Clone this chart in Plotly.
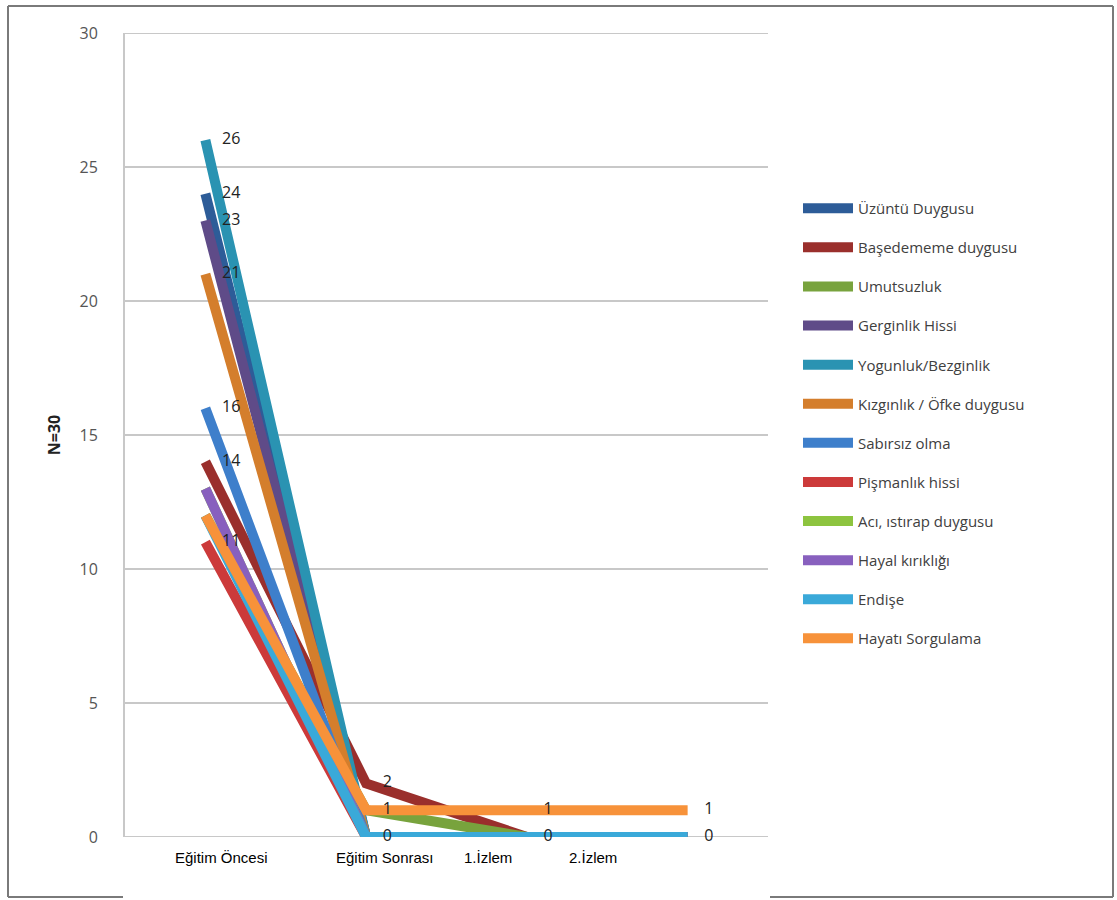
import plotly.graph_objects as go

categories = ["Eğitim Öncesi", "Eğitim Sonrası", "1.İzlem", "2.İzlem"]

series_names = [
    "Üzüntü Duygusu", "Başedememe duygusu", "Umutsuzluk", "Gerginlik Hissi",
    "Yogunluk/Bezginlik", "Kızgınlık / Öfke duygusu", "Sabırsız olma",
    "Pişmanlık hissi", "Acı, ıstırap duygusu", "Hayal kırıklığı", "Endişe",
    "Hayatı Sorgulama",
]
uzuntu = [24, 0, 0, 0]
basedememe = [14, 2, 0, 0]
umutsuzluk = [12, 1, 0, 0]
gerginlik = [23, 0, 0, 0]
yogunluk = [26, 0, 0, 0]
kizginlik = [21, 0, 0, 0]
sabirsiz = [16, 0, 0, 0]
pismanlik = [11, 0, 0, 0]
aci = [13, 0, 0, 0]
hayal = [13, 0, 0, 0]
endise = [12, 0, 0, 0]
hayati = [12, 1, 1, 1]
series_values = [uzuntu, basedememe, umutsuzluk, gerginlik, yogunluk, kizginlik,
                 sabirsiz, pismanlik, aci, hayal, endise, hayati]

# which points carry a data label (index lists per series)
label_points = {
    "Üzüntü Duygusu": [0], "Başedememe duygusu": [0, 1], "Gerginlik Hissi": [0],
    "Yogunluk/Bezginlik": [0], "Kızgınlık / Öfke duygusu": [0], "Sabırsız olma": [0],
    "Pişmanlık hissi": [0], "Endişe": [1, 2, 3], "Hayatı Sorgulama": [1, 2, 3],
}

colors = ["#2D5C98", "#9A2F2C", "#78A33D", "#5F4B88", "#2A93B2", "#D47E2C",
          "#3E7FCB", "#CC3A3A", "#8DC43F", "#8860BE", "#3AA9D9", "#F7923A"]

fig = go.Figure()
for name, vals, col in zip(series_names, series_values, colors):
    fig.add_trace(go.Scatter(
        x=categories, y=vals, name=name, mode="lines",
        line=dict(color=col, width=10),
        legendgroup=name, cliponaxis=False,
    ))
# data labels drawn on top of all lines
for name, vals in zip(series_names, series_values):
    idx = label_points.get(name, [])
    if not idx:
        continue
    fig.add_trace(go.Scatter(
        x=[categories[i] for i in idx], y=[vals[i] for i in idx],
        text=["    " + str(vals[i]) for i in idx], mode="text",
        textposition="middle right",
        textfont=dict(family="Open Sans", size=16, color="#222222"),
        showlegend=False, cliponaxis=False, hoverinfo="skip",
    ))

W, H = 1117, 900
L, R, T, B = 125, 768, 33, 837
def px(x):
    return (x - L) / (R - L)
def py(y):
    return (B - y) / (B - T)

shapes = []
frame_col = "#7a7a7a"
for (x0, y0, x1, y1) in [(8, 6, 1113, 6), (8, 6, 8, 897), (1113, 6, 1113, 897),
                          (8, 897, 123, 897), (770, 897, 1113, 897)]:
    shapes.append(dict(type="line", xref="paper", yref="paper",
                       x0=px(x0), y0=py(y0), x1=px(x1), y1=py(y1),
                       line=dict(color=frame_col, width=2)))
# edge gridlines (0 and 30) drawn below traces
for yv in (0, 30):
    shapes.append(dict(type="line", xref="paper", yref="y", x0=0, x1=1, y0=yv, y1=yv,
                       line=dict(color="#c8c8c8", width=2), layer="below"))

xlabel_centers = [221, 385, 488, 593]
annotations = []
for c, xc in zip(categories, xlabel_centers):
    annotations.append(dict(text=c, xref="paper", yref="paper", x=px(xc), y=py(857),
                            showarrow=False, xanchor="center", yanchor="middle",
                            font=dict(family="Liberation Sans", size=15, color="#000000")))

fig.update_layout(
    width=W, height=H,
    margin=dict(l=L, r=W - R, t=T, b=H - B),
    paper_bgcolor="white", plot_bgcolor="white",
    font=dict(family="Open Sans", color="#404040"),
    showlegend=True,
    legend=dict(x=px(798), y=py(192), xanchor="left", yanchor="top",
                font=dict(family="Open Sans", size=15, color="#404040"),
                tracegroupgap=16.6, bgcolor="rgba(0,0,0,0)", itemwidth=50),
    xaxis=dict(type="category", range=[-0.5, 3.5], showticklabels=False,
               showgrid=False, zeroline=False, showline=False, ticks=""),
    yaxis=dict(range=[0, 30], dtick=5, showgrid=True, gridcolor="#c8c8c8", gridwidth=2,
               zeroline=False, showline=True, linecolor="#c8c8c8", linewidth=2,
               ticks="", ticklen=0, ticklabelstandoff=22,
               tickfont=dict(family="Open Sans", size=16, color="#555555"),
               title=dict(text="<b>N=30</b>", standoff=15,
                          font=dict(family="Open Sans", size=16, color="#222222"))),
    shapes=shapes, annotations=annotations,
)

fig.write_html("out.html")
